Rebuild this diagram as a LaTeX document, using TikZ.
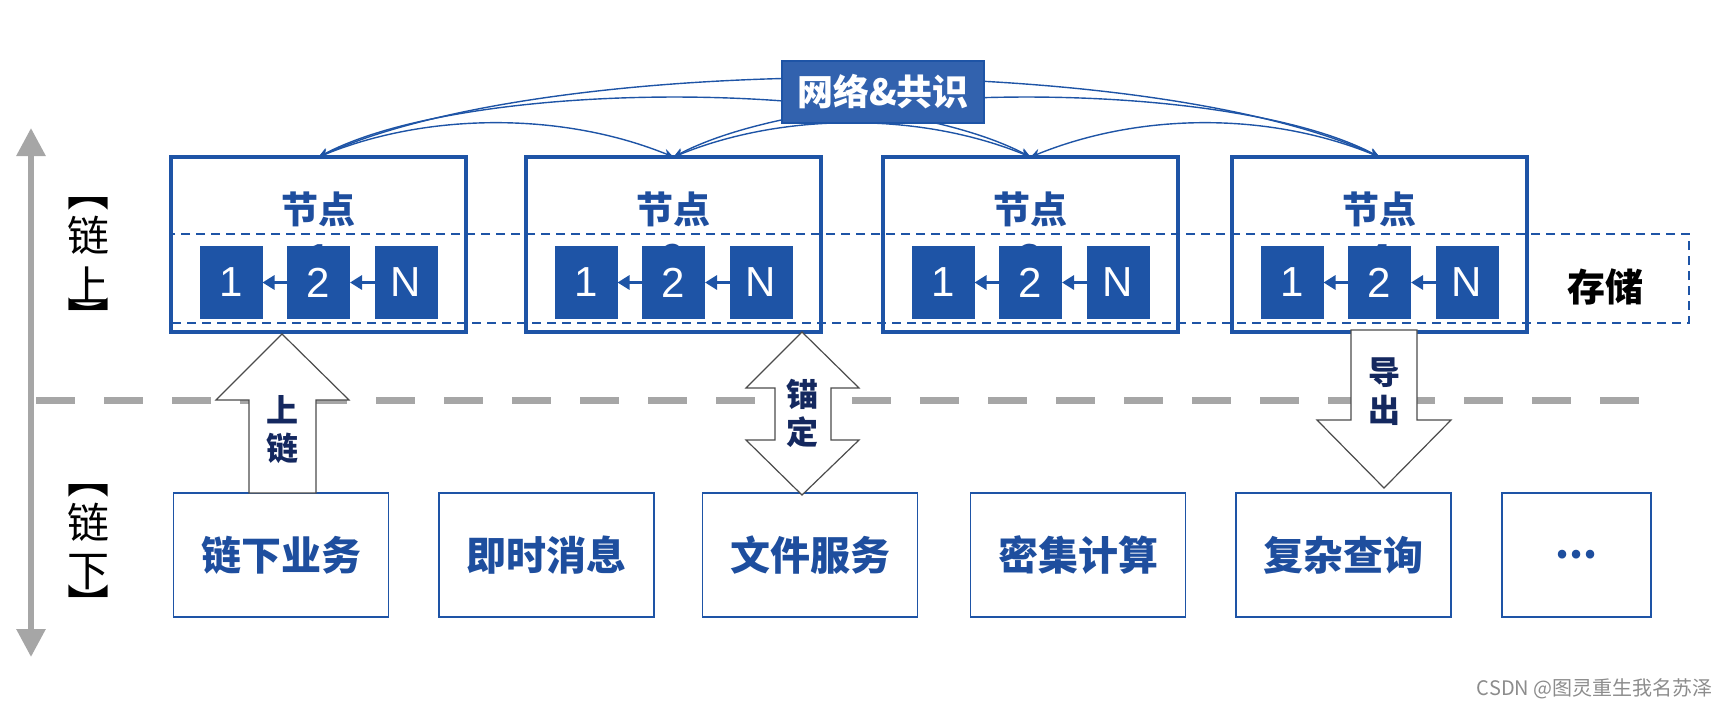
\documentclass[tikz,border=0pt]{standalone}
\usepackage{fontspec}
\setmainfont{Noto Sans CJK SC}
\newfontfamily\arialf{Liberation Sans}
\usetikzlibrary{arrows.meta,calc}
\definecolor{mblue}{RGB}{30,84,166}
\definecolor{nblue}{RGB}{50,98,174}
\definecolor{tblue}{RGB}{30,78,158}
\definecolor{navy}{RGB}{20,40,95}
\definecolor{lgray}{RGB}{166,166,166}
\definecolor{wmgray}{RGB}{140,140,140}
\begin{document}
\begin{tikzpicture}[x=0.5pt,y=-0.5pt,
  nodebox/.style={draw=mblue,line width=2.2pt,minimum width=147.5pt,minimum height=87.5pt,inner sep=0pt,outer sep=0pt},
  blk/.style={fill=mblue,text=white,minimum width=31.5pt,minimum height=36.5pt,inner sep=0pt,outer sep=0pt,font=\arialf\fontsize{21pt}{24pt}\selectfont},
  jtitle/.style={text=tblue,font=\fontsize{18.5pt}{22pt}\selectfont\bfseries,inner sep=0pt},
  sarrow/.style={draw=mblue,line width=1.5pt,arrows={-Triangle[length=6pt,width=7pt]}},
  meshline/.style={draw=mblue,line width=0.7pt,arrows={Stealth[length=5pt,width=4.5pt]-Stealth[length=5pt,width=4.5pt]}},
  botbox/.style={draw=mblue,line width=0.8pt,minimum width=107.5pt,minimum height=62pt,inner sep=0pt,text=tblue,font=\fontsize{20pt}{24pt}\selectfont\bfseries},
  barrow/.style={draw=black!70,line width=0.6pt,fill=white},
  arrtext/.style={text=navy,font=\fontsize{16pt}{19pt}\selectfont\bfseries,align=center,inner sep=0pt},
  sidetext/.style={text=black,font=\fontsize{21pt}{24pt}\selectfont,inner sep=0pt}
]
\useasboundingbox (0,0) rectangle (1727,707);

% gray axis and divider
\draw[lgray,line width=3pt,arrows={Triangle[length=14pt,width=14pt]-Triangle[length=14pt,width=14pt]}] (31,657) -- (31,128);
\draw[lgray,line width=3.5pt,dash pattern=on 19.5pt off 14.5pt] (36,400) -- (1652,400);

% storage band
\draw[mblue,line width=1pt,dash pattern=on 4.5pt off 3pt] (171,234) rectangle (1689,323);
\node[font=\fontsize{19pt}{22pt}\selectfont\bfseries,inner sep=0pt] (store) at (1605,287) {存储};

% node boxes
\foreach \i/\cx in {1/318.5,2/673.5,3/1030.5,4/1379.5}{
  \node[nodebox] (n\i) at (\cx,244.5) {};
  \node[jtitle] (t\i) at (\cx,209) {节点};
  \node[jtitle] (d\i) at (\cx,258) {\i};
  \node[blk] (a\i) at (\cx-87.5,282.5) {1};
  \node[blk] (b\i) at (\cx,282.5) {2};
  \node[blk] (c\i) at (\cx+87.5,282.5) {N};
  \draw[sarrow] (b\i.west) -- (a\i.east);
  \draw[sarrow] (c\i.west) -- (b\i.east);
}

% mesh connections
\draw[meshline] (n1.north) .. controls +(230,-105) and +(-230,-105) .. (n4.north);
\draw[meshline] (n1.north) .. controls +(150,-79) and +(-150,-79) .. (n3.north);
\draw[meshline] (n2.north) .. controls +(150,-79) and +(-150,-79) .. (n4.north);
\draw[meshline] (n1.north) .. controls +(110,-45) and +(-110,-45) .. (n2.north);
\draw[meshline] (n2.north) .. controls +(110,-45) and +(-110,-45) .. (n3.north);
\draw[meshline] (n3.north) .. controls +(110,-45) and +(-110,-45) .. (n4.north);

\node[fill=nblue,draw=mblue,line width=0.8pt,minimum width=101pt,minimum height=31pt,inner sep=0pt,text=white,font=\fontsize{18pt}{22pt}\selectfont\bfseries] (net) at (883,92) {网络\&共识};

% bottom boxes
\node[botbox] (o1) at (281,555) {链下业务};
\node[botbox] (o2) at (546.5,555) {即时消息};
\node[botbox] (o3) at (810,555) {文件服务};
\node[botbox] (o4) at (1078,555) {密集计算};
\node[botbox] (o5) at (1343.5,555) {复杂查询};
\node[botbox,minimum width=74.5pt] (o6) at (1576.5,555) {...};

% block arrows
\draw[barrow] (249,493) -- (249,400) -- (216,400) -- (282,334) -- (349,400) -- (316,400) -- (316,493) -- cycle;
\node[arrtext] (up) at (282,430) {上\\链};
\draw[barrow] (802,332) -- (859,388) -- (831,388) -- (831,440) -- (859,440) -- (802,495) -- (746,440) -- (775,440) -- (775,388) -- (746,388) -- cycle;
\node[arrtext] (anchor) at (802,413) {锚\\定};
\draw[barrow] (1351,330) -- (1417,330) -- (1417,420) -- (1451,420) -- (1384,488) -- (1317,420) -- (1351,420) -- cycle;
\node[arrtext] (export) at (1384,392) {导\\出};

% side labels
\node[sidetext] (l1) at (88,204) {︻};
\node[sidetext] (l2) at (88,235) {链};
\node[sidetext] (l3) at (88,285) {上};
\node[sidetext] (l4) at (88,316) {︼};
\node[sidetext] (m1) at (88,491) {︻};
\node[sidetext] (m2) at (88,522) {链};
\node[sidetext] (m3) at (88,572) {下};
\node[sidetext] (m4) at (88,603) {︼};

\node[anchor=east,text=wmgray,font=\fontsize{10pt}{12pt}\selectfont,inner sep=0pt] (wm) at (1713,689) {CSDN @图灵重生我名苏泽};
\end{tikzpicture}
\end{document}
